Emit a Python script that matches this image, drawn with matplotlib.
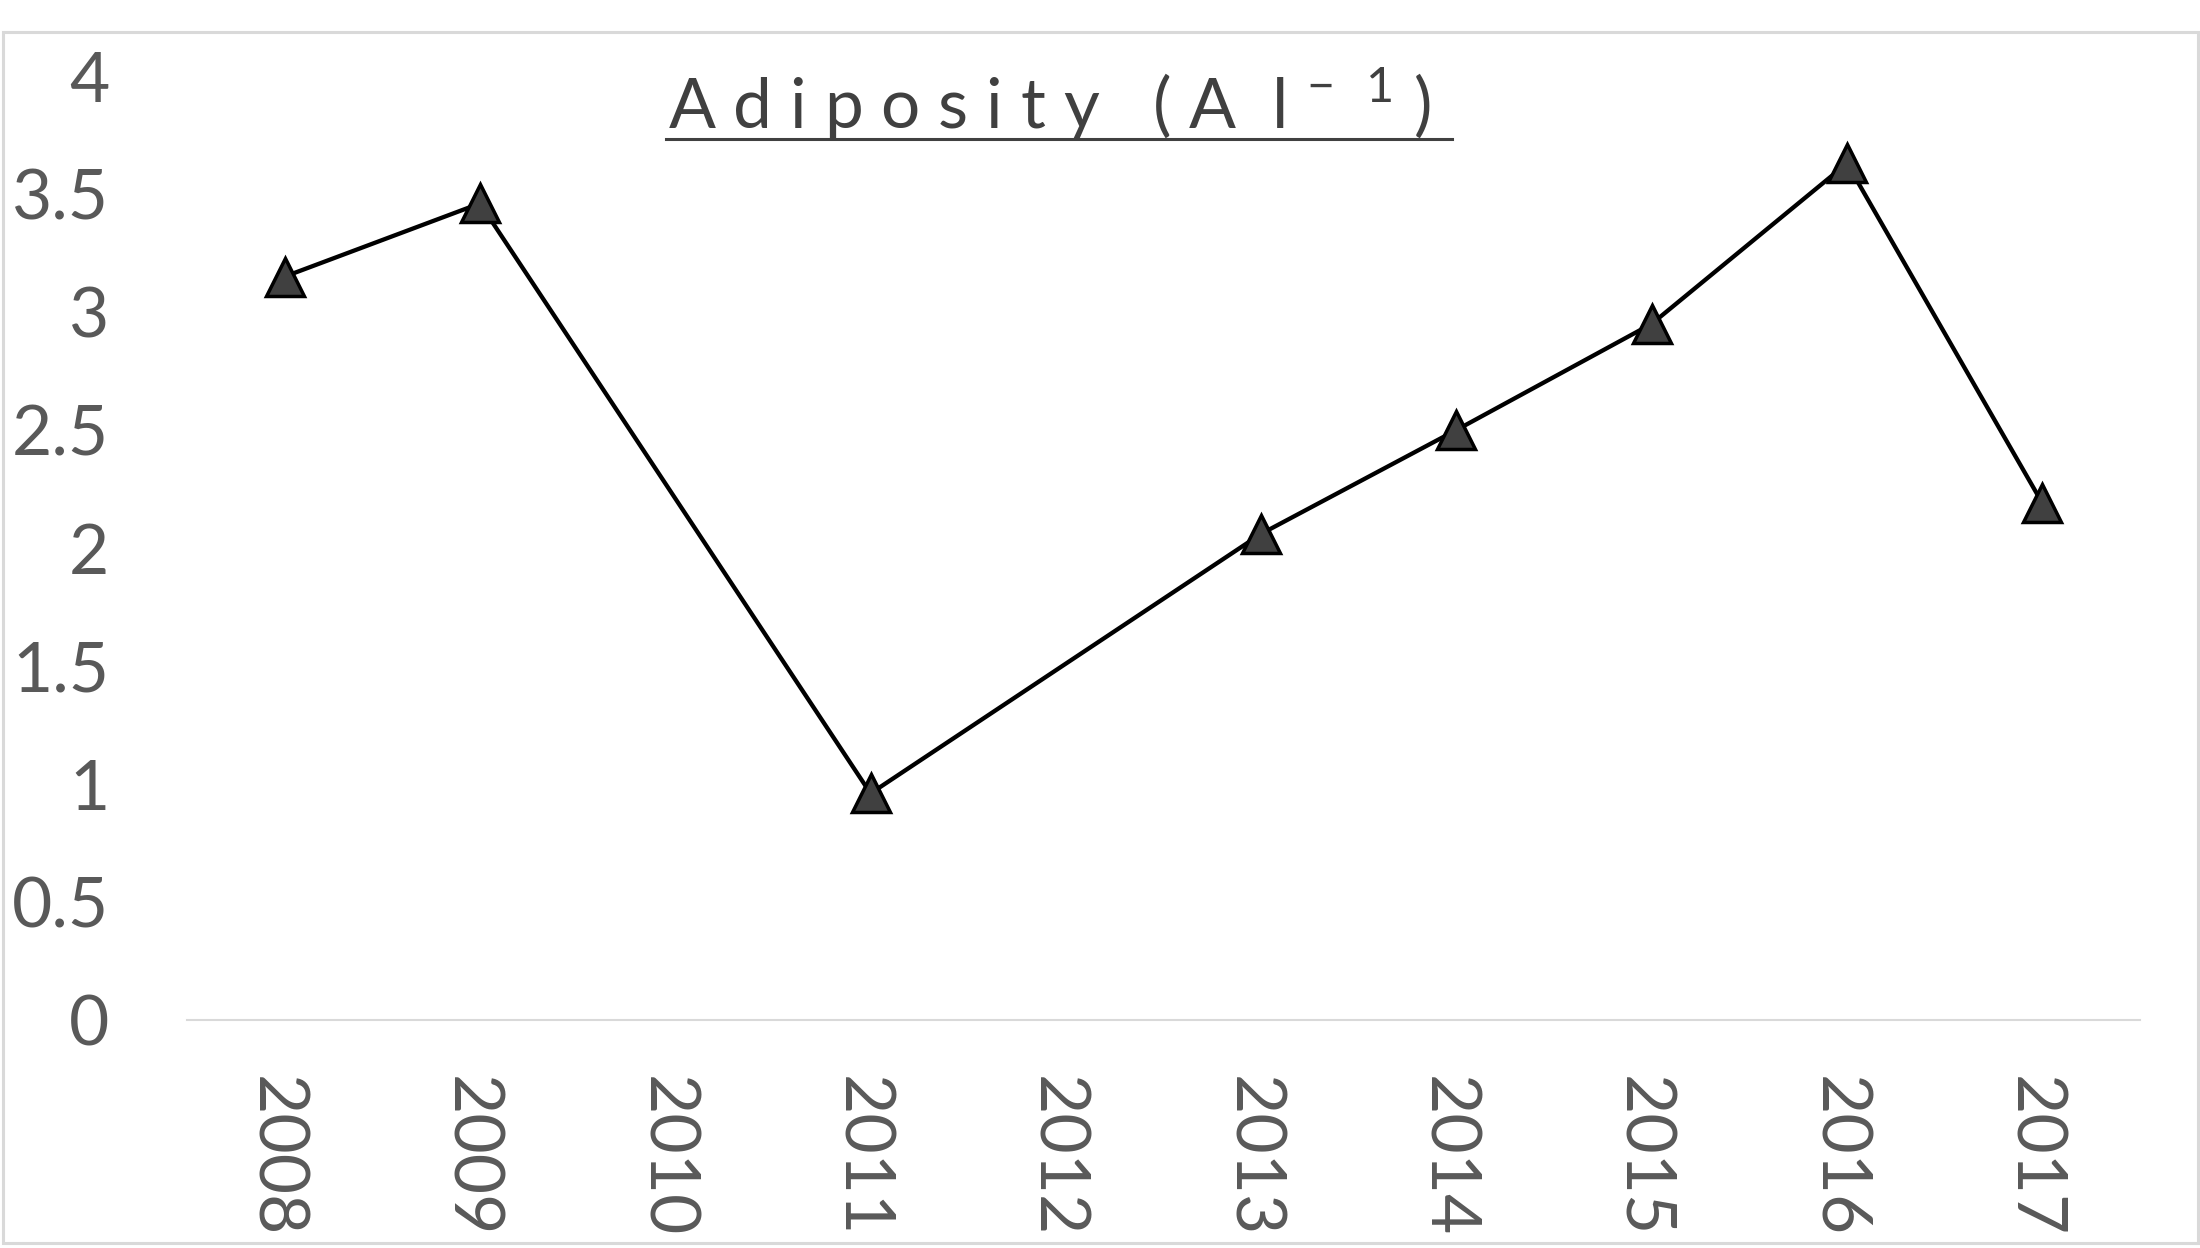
import matplotlib
matplotlib.use('Agg')
import matplotlib.pyplot as plt
import matplotlib.transforms as mtransforms
from matplotlib.patches import Rectangle
from matplotlib.lines import Line2D

# --- data ---
years = ['2008', '2009', '2010', '2011', '2012', '2013', '2014', '2015', '2016', '2017']
adiposity = [3.15, 3.46, None, 0.96, None, 2.06, 2.50, 2.95, 3.63, 2.19]
y_ticks = [0, 0.5, 1, 1.5, 2, 2.5, 3, 3.5, 4]
y_tick_labels = ['0', '0.5', '1', '1.5', '2', '2.5', '3', '3.5', '4']

TEXT_GREY = '#595959'
TITLE_GREY = '#404040'
BORDER_GREY = '#d9d9d9'

plt.rcParams['font.family'] = ['Lato', 'DejaVu Sans']

W, H = 2200, 1248
fig = plt.figure(figsize=(W / 100, H / 100), dpi=100)

# axes placed in pixel terms of the reference
left, right = 187 / W, 2140 / W
bottom, top = 1 - 1020 / H, 1 - 76 / H
ax = fig.add_axes([left, bottom, right - left, top - bottom])

# gaps (2010, 2012) are bridged by the line
xs = [i for i, v in enumerate(adiposity) if v is not None]
vs = [v for v in adiposity if v is not None]
ax.plot(xs, vs, color='black', linewidth=3.1, marker='^', markersize=27,
        markerfacecolor='#404040', markeredgecolor='black', markeredgewidth=2.5,
        zorder=3, clip_on=False)

ax.set_xlim(-0.5, len(years) - 0.5)
ax.set_ylim(0, 4)
ax.set_xticks(range(len(years)))
ax.set_xticklabels(years, rotation=-90, fontsize=50, color=TEXT_GREY,
                   va='top', ha='center')
ax.set_yticks(y_ticks)
ax.set_yticklabels(y_tick_labels, fontsize=50, color=TEXT_GREY)
ax.tick_params(axis='both', length=0)
ax.tick_params(axis='y', pad=56)
ax.tick_params(axis='x', pad=40)

# nudge rotated year labels a little to the left
shift = mtransforms.ScaledTranslation(-7 / 72, 0, fig.dpi_scale_trans)
for lbl in ax.get_xticklabels():
    lbl.set_transform(lbl.get_transform() + shift)

for side in ['top', 'right', 'left']:
    ax.spines[side].set_visible(False)
ax.spines['bottom'].set_color(BORDER_GREY)
ax.spines['bottom'].set_linewidth(1.5)

# title with letter spacing and underline
fig.text(1050 / W, 1 - 129 / H, r'A d i p o s i t y   ( A  l $^{\mathregular{-\ \ 1}}$ )',
         fontsize=50, color=TITLE_GREY, ha='center', va='baseline')
fig.add_artist(Line2D([666 / W, 1452 / W], [1 - 139 / H, 1 - 139 / H],
                      color=TITLE_GREY, linewidth=2.2, transform=fig.transFigure))

# chart area border
fig.add_artist(Rectangle((3 / W, 5 / H), 2195 / W, (H - 32 - 5) / H, fill=False,
                         edgecolor=BORDER_GREY, linewidth=2.2, transform=fig.transFigure))

fig.savefig('out.png', dpi=100, facecolor='white')
